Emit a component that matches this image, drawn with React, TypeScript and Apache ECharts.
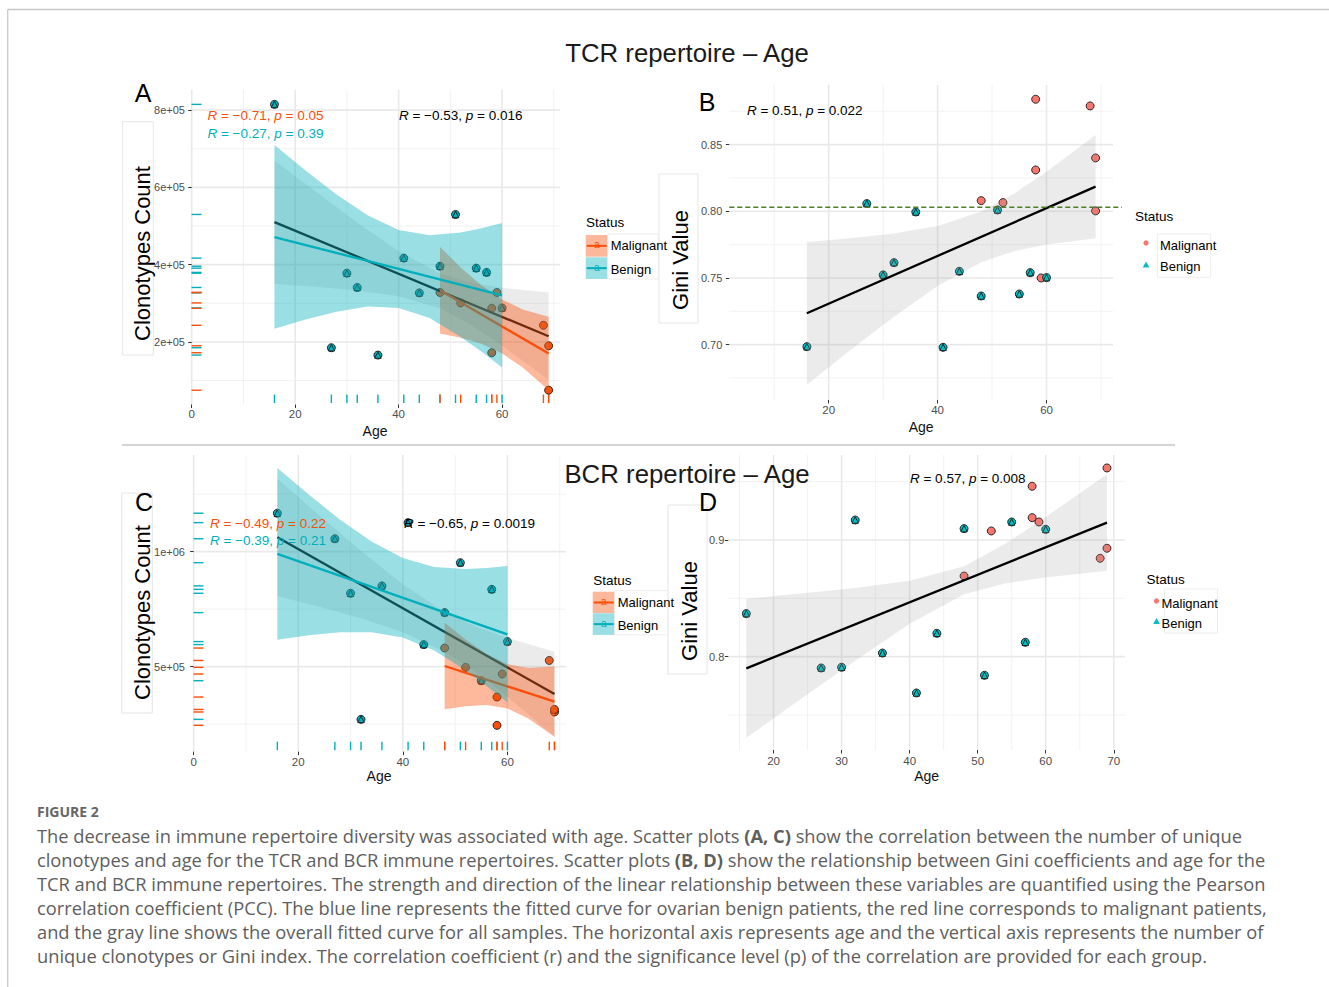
import React, { useEffect, useRef } from "react";
import * as echarts from "echarts";

const FONT = "'Liberation Sans', Arial, Helvetica, sans-serif";
const CAP_FONT = "'Open Sans', 'Noto Sans', sans-serif";

const TEAL = "#00AFBB";
const ORANGE = "#FC4E07";
const TEAL2 = "#00BFC4";
const SALMON = "#F8766D";

// ---------- data ----------
const malignantAges = [48, 52, 58, 58, 59, 68, 69, 69];
const benignAges = [16, 27, 30, 32, 36, 41, 44, 48, 51, 55, 57, 60];

// A: TCR clonotypes count
const aMalignant = [328000, 301000, 287000, 172000, 328000, 243000, 190000, 75000];
const aBenign = [815000, 185000, 378000, 341000, 166000, 417000, 327000, 396000, 530000, 391000, 380000, 288000];
// B: TCR Gini
const bMalignant = [0.808, 0.8065, 0.884, 0.831, 0.75, 0.879, 0.84, 0.8003];
const bBenign = [0.6985, 0.8058, 0.7523, 0.7615, 0.7995, 0.698, 0.755, 0.7365, 0.801, 0.738, 0.754, 0.7503];
// C: BCR clonotypes count
const cMalignant = [581000, 497000, 368000, 245000, 468000, 527000, 303000, 314000];
const cBenign = [1167000, 1056000, 819000, 271000, 851000, 1126000, 596000, 735000, 952000, 439000, 836000, 609000];
// D: BCR Gini
const dMalignant = [0.8691, 0.9077, 0.946, 0.9191, 0.9154, 0.8843, 0.9617, 0.8929];
const dBenign = [0.8369, 0.7903, 0.7909, 0.9171, 0.8031, 0.7689, 0.82, 0.9097, 0.784, 0.9154, 0.8123, 0.9091];

// fitted lines (endpoints)
const aFitAllX = [16, 69], aFitAllY = [510300, 214600];
const aFitBenX = [16, 60], aFitBenY = [471500, 320700];
const aFitMalX = [48, 69], aFitMalY = [333600, 169800];
const bFitX = [16, 69], bFitY = [0.7235, 0.8185];
const cFitAllX = [16, 69], cFitAllY = [1062300, 381200];
const cFitBenX = [16, 60], cFitBenY = [989900, 640600];
const cFitMalX = [48, 69], cFitMalY = [502900, 347800];
const dFitX = [16, 69], dFitY = [0.79, 0.9149];

// confidence bands
const allBandAges = [16, 24, 32, 40, 48, 54, 60, 69];
const aAllLow = [350000, 343000, 333000, 318000, 287000, 244000, 190000, 102000];
const aAllUp = [670000, 589000, 509000, 435000, 377000, 353000, 340000, 328000];
const benBandAges = [16, 22, 28, 34, 40, 46, 52, 56, 60];
const aBenLow = [234000, 258000, 278000, 292000, 288000, 262000, 213000, 175000, 134000];
const aBenUp = [710000, 644000, 582000, 528000, 490000, 476000, 483000, 494000, 508000];
const malBandAges = [48, 52, 56, 60, 64, 69];
const aMalLow = [222000, 211000, 195000, 170000, 134000, 75000];
const aMalUp = [446000, 393000, 347000, 310000, 284000, 265000];

const bLow = [0.670, 0.6959, 0.721, 0.744, 0.7618, 0.7701, 0.7751, 0.7797];
const bUp = [0.777, 0.7797, 0.7834, 0.789, 0.7998, 0.8131, 0.8297, 0.8573];

const cAllLow = [807000, 760000, 710000, 650000, 565000, 475000, 369000, 197000];
const cAllUp = [1317000, 1158000, 1003000, 858000, 737000, 673000, 625000, 565000];
const cBenLow = [617000, 637000, 650000, 650000, 627000, 570000, 484000, 416000, 344000];
const cBenUp = [1363000, 1248000, 1139000, 1044000, 972000, 933000, 924000, 929000, 938000];
const cMalLow = [315000, 328000, 333000, 318000, 275000, 195000];
const cMalUp = [691000, 618000, 555000, 511000, 494000, 501000];

const dLow = [0.7304, 0.7637, 0.7965, 0.8281, 0.8534, 0.8627, 0.8678, 0.8736];
const dUp = [0.8496, 0.8541, 0.8589, 0.8651, 0.8774, 0.8965, 0.9196, 0.9562];

const bCutoff = 0.803;

// ticks / grid
const aXMajor = [0, 20, 40, 60], aXMinor = [10, 30, 50, 70];
const aYMajor = [200000, 400000, 600000, 800000], aYMinor = [100000, 300000, 500000, 700000];
const bXMajor = [20, 40, 60], bXMinor = [10, 30, 50, 70];
const bYMajor = [0.7, 0.75, 0.8, 0.85], bYMinor = [0.675, 0.725, 0.775, 0.825, 0.875];
const cXMajor = [0, 20, 40, 60], cXMinor = [10, 30, 50, 70];
const cYMajor = [500000, 1000000], cYMinor = [250000, 750000, 1250000];
const dXMajor = [20, 30, 40, 50, 60, 70], dXMinor = [15, 25, 35, 45, 55, 65];
const dYMajor = [0.8, 0.9], dYMinor = [0.75, 0.85, 0.95];

const captionLines = [
  "The decrease in immune repertoire diversity was associated with age. Scatter plots {b|(A, C)} show the correlation between the number of unique",
  "clonotypes and age for the TCR and BCR immune repertoires. Scatter plots {b|(B, D)} show the relationship between Gini coefficients and age for the",
  "TCR and BCR immune repertoires. The strength and direction of the linear relationship between these variables are quantified using the Pearson",
  "correlation coefficient (PCC). The blue line represents the fitted curve for ovarian benign patients, the red line corresponds to malignant patients,",
  "and the gray line shows the overall fitted curve for all samples. The horizontal axis represents age and the vertical axis represents the number of",
  "unique clonotypes or Gini index. The correlation coefficient (r) and the significance level (p) of the correlation are provided for each group.",
];

// ---------- helpers ----------
const sci = (v: number) => {
  const e = Math.floor(Math.log10(v) + 1e-9);
  const m = +(v / Math.pow(10, e)).toFixed(2);
  return `${m}e+${String(e).padStart(2, "0")}`;
};

function gridLines(gi: number, xMaj: number[], xMin: number[], yMaj: number[], yMin: number[]) {
  return {
    type: "custom", xAxisIndex: gi, yAxisIndex: gi, z: 0, silent: true,
    data: [[xMaj[0], yMaj[0]]],
    renderItem: (params: any, api: any) => {
      const cs = params.coordSys;
      const ch: any[] = [];
      const v = (val: number, w: number, c: string) => {
        const x = api.coord([val, yMaj[0]])[0];
        ch.push({ type: "line", shape: { x1: x, y1: cs.y, x2: x, y2: cs.y + cs.height }, style: { stroke: c, lineWidth: w } });
      };
      const h = (val: number, w: number, c: string) => {
        const y = api.coord([xMaj[0], val])[1];
        ch.push({ type: "line", shape: { x1: cs.x, y1: y, x2: cs.x + cs.width, y2: y }, style: { stroke: c, lineWidth: w } });
      };
      xMin.forEach((x) => v(x, 0.9, "#F1F1F1"));
      yMin.forEach((y) => h(y, 0.9, "#F1F1F1"));
      xMaj.forEach((x) => v(x, 1.6, "#E9E9E9"));
      yMaj.forEach((y) => h(y, 1.6, "#E9E9E9"));
      return { type: "group", children: ch };
    },
  };
}

function band(gi: number, ages: number[], low: number[], up: number[], fill: string, z: number) {
  return {
    type: "custom", xAxisIndex: gi, yAxisIndex: gi, z, silent: true,
    data: [[ages[0], low[0]]],
    renderItem: (_p: any, api: any) => {
      const pts: number[][] = [];
      ages.forEach((a, i) => pts.push(api.coord([a, up[i]])));
      for (let i = ages.length - 1; i >= 0; i--) pts.push(api.coord([ages[i], low[i]]));
      return { type: "polygon", shape: { points: pts }, style: { fill } };
    },
  };
}

function fit(gi: number, xs: number[], ys: number[], color: string, z: number) {
  return {
    type: "line", xAxisIndex: gi, yAxisIndex: gi, z, silent: true,
    data: xs.map((x, i) => [x, ys[i]]),
    showSymbol: false, symbol: "none",
    lineStyle: { color, width: 2.3 },
  };
}

function points(gi: number, ages: number[], vals: number[], color: string, symbol: string, size: number, z: number) {
  return {
    type: "scatter", xAxisIndex: gi, yAxisIndex: gi, z, silent: true,
    data: ages.map((a, i) => [a, vals[i]]),
    symbol, symbolSize: size,
    itemStyle: { color, borderColor: "#1a1a1a", borderWidth: 0.9, opacity: 1 },
  };
}

function rug(gi: number, ages: number[], vals: number[], color: string) {
  return {
    type: "custom", xAxisIndex: gi, yAxisIndex: gi, z: 1, silent: true,
    data: ages.map((a, i) => [a, vals[i]]),
    renderItem: (params: any, api: any) => {
      const cs = params.coordSys;
      const p = api.coord([api.value(0), api.value(1)]);
      const b = cs.y + cs.height;
      return {
        type: "group",
        children: [
          { type: "line", shape: { x1: p[0], y1: b - 1.5, x2: p[0], y2: b - 10 }, style: { stroke: color, lineWidth: 1.4 } },
          { type: "line", shape: { x1: cs.x + 1.5, y1: p[1], x2: cs.x + 11.5, y2: p[1] }, style: { stroke: color, lineWidth: 1.4 } },
        ],
      };
    },
  };
}

function hline(gi: number, y: number, xRef: number) {
  return {
    type: "custom", xAxisIndex: gi, yAxisIndex: gi, z: 8, silent: true,
    data: [[xRef, y]],
    renderItem: (params: any, api: any) => {
      const cs = params.coordSys;
      const p = api.coord([xRef, y]);
      return {
        type: "line", shape: { x1: cs.x, y1: p[1], x2: cs.x + cs.width + 9, y2: p[1] },
        style: { stroke: "#4E7D2A", lineWidth: 1.4, lineDash: [5, 3] },
      };
    },
  };
}

function xAxis(gi: number, min: number, max: number, ticks: number[], margin: number, nameGap: number, fmt?: (v: number) => string) {
  return {
    gridIndex: gi, type: "value", min, max,
    axisLine: { show: false }, splitLine: { show: false }, minorSplitLine: { show: false },
    axisTick: { show: true, customValues: ticks, length: 3.5, lineStyle: { color: "#333333", width: 1 } },
    axisLabel: { customValues: ticks, color: "#4D4D4D", fontSize: 11.5, fontFamily: FONT, margin, formatter: fmt || ((v: number) => String(v)) },
    name: "Age", nameLocation: "middle", nameGap,
    nameTextStyle: { fontSize: 14, color: "#111", fontFamily: FONT },
  };
}

function yAxis(gi: number, min: number, max: number, ticks: number[], margin: number, fmt: (v: number) => string) {
  return {
    gridIndex: gi, type: "value", min, max,
    axisLine: { show: false }, splitLine: { show: false }, minorSplitLine: { show: false },
    axisTick: { show: true, customValues: ticks, length: 3.5, lineStyle: { color: "#333333", width: 1 } },
    axisLabel: { customValues: ticks, color: "#4D4D4D", fontSize: 11, fontFamily: FONT, margin, formatter: fmt },
  };
}

function T(text: string, x: number, y: number, o: any = {}) {
  const fs = o.fontSize ?? 13;
  const ff = o.fontFamily ?? FONT;
  const fill = o.fill ?? "#000";
  return {
    type: "text", x, y, z: 100, silent: true, rotation: o.rotation ?? 0,
    style: {
      text, fill, fontSize: fs, fontFamily: ff, fontWeight: o.fontWeight ?? "normal",
      align: o.align ?? "left", textAlign: o.align ?? "left",
      verticalAlign: "middle", textVerticalAlign: "middle",
      rich: o.rich,
    },
  };
}

const italicRich = (fill: string, fs: number) => ({
  i: { fontStyle: "italic", fill, fontSize: fs, fontFamily: FONT },
});

function stat(txt: string, x: number, y: number, fill: string) {
  return T(txt, x, y, { fill, fontSize: 13.5, rich: italicRich(fill, 13.5) });
}

function rect(x: number, y: number, w: number, h: number, fill: string, stroke?: string) {
  return { type: "rect", z: 99, silent: true, shape: { x, y, width: w, height: h }, style: { fill, stroke: stroke || null, lineWidth: 1 } };
}

function seg(x1: number, y1: number, x2: number, y2: number, stroke: string, w: number) {
  return { type: "line", z: 100, silent: true, shape: { x1, y1, x2, y2 }, style: { stroke, lineWidth: w } };
}

function fillLegend(x: number, yTitle: number, y1: number, y2: number, h: number, lx: number, boxR: number) {
  const els: any[] = [];
  els.push(T("Status", x, yTitle, { fontSize: 13.5 }));
  els.push(rect(lx, y1, 22, h, "#FDB89C"));
  els.push(rect(lx, y2, 22, h, "#99DFE4"));
  els.push(seg(lx + 1, y1 + h / 2, lx + 21, y1 + h / 2, ORANGE, 2));
  els.push(seg(lx + 1, y2 + h / 2, lx + 21, y2 + h / 2, TEAL, 2));
  els.push(T("a", lx + 11, y1 + h / 2 - 1, { fill: ORANGE, fontSize: 10, align: "center" }));
  els.push(T("a", lx + 11, y2 + h / 2 - 1, { fill: TEAL, fontSize: 10, align: "center" }));
  els.push(rect(lx + 22, y1 - 1, boxR - lx - 22, y2 + h - y1 + 1, "rgba(0,0,0,0)", "#EDEDED"));
  els.push(T("Malignant", lx + 25, y1 + h / 2, { fontSize: 13 }));
  els.push(T("Benign", lx + 25, y2 + h / 2 + 1, { fontSize: 13 }));
  return els;
}

function pointLegend(x: number, yTitle: number, kx: number, y1: number, y2: number, lx: number, box: number[]) {
  return [
    rect(box[0], box[1], box[2], box[3], "rgba(0,0,0,0)", "#EDEDED"),
    T("Status", x, yTitle, { fontSize: 13.5 }),
    { type: "circle", z: 100, silent: true, shape: { cx: kx, cy: y1 - 2, r: 2.6 }, style: { fill: SALMON } },
    { type: "polygon", z: 100, silent: true, shape: { points: [[kx, y2 - 5], [kx - 3.3, y2 + 1], [kx + 3.3, y2 + 1]] }, style: { fill: TEAL2 } },
    T("Malignant", lx, y1, { fontSize: 13 }),
    T("Benign", lx, y2, { fontSize: 13 }),
  ];
}

function yTitleBox(bx: number, by: number, bw: number, bh: number, text: string, cx: number, cy: number) {
  return [
    rect(bx, by, bw, bh, "#FFFFFF", "#E6E6E6"),
    T(text, cx, cy, { fontSize: 22, rotation: Math.PI / 2, align: "center", fill: "#000" }),
  ];
}

export default function App() {
  const ref = useRef<HTMLDivElement>(null);

  useEffect(() => {
    document.body.style.margin = "0";
    const chart = echarts.init(ref.current!, null, { renderer: "svg" });

    const grids = [
      { left: 190, top: 89.7, width: 370, height: 314.8 },
      { left: 729.3, top: 85, width: 383.7, height: 315 },
      { left: 192, top: 455, width: 374, height: 296.7 },
      { left: 728.3, top: 455, width: 396.7, height: 295 },
    ];

    const series: any[] = [
      // A
      gridLines(0, aXMajor, aXMinor, aYMajor, aYMinor),
      points(0, malignantAges, aMalignant, ORANGE, "circle", 8, 1),
      points(0, benignAges, aBenign, TEAL, "circle", 8, 1),
      points(0, benignAges, aBenign, TEAL, "triangle", 6.5, 1),
      rug(0, benignAges, aBenign, TEAL),
      rug(0, malignantAges, aMalignant, ORANGE),
      band(0, allBandAges, aAllLow, aAllUp, "rgba(153,153,153,0.2)", 2),
      fit(0, aFitAllX, aFitAllY, "#111111", 3),
      band(0, malBandAges, aMalLow, aMalUp, "rgba(252,78,7,0.4)", 4),
      fit(0, aFitMalX, aFitMalY, ORANGE, 5),
      band(0, benBandAges, aBenLow, aBenUp, "rgba(0,175,187,0.4)", 6),
      fit(0, aFitBenX, aFitBenY, TEAL, 7),
      // B
      gridLines(1, bXMajor, bXMinor, bYMajor, bYMinor),
      points(1, malignantAges, bMalignant, SALMON, "circle", 8, 1),
      points(1, benignAges, bBenign, TEAL2, "circle", 8, 1),
      points(1, benignAges, bBenign, TEAL2, "triangle", 6.5, 1),
      band(1, allBandAges, bLow, bUp, "rgba(153,153,153,0.2)", 2),
      fit(1, bFitX, bFitY, "#000000", 3),
      hline(1, bCutoff, 20),
      // C
      gridLines(2, cXMajor, cXMinor, cYMajor, cYMinor),
      points(2, malignantAges, cMalignant, ORANGE, "circle", 8, 1),
      points(2, benignAges, cBenign, TEAL, "circle", 8, 1),
      points(2, benignAges, cBenign, TEAL, "triangle", 6.5, 1),
      rug(2, benignAges, cBenign, TEAL),
      rug(2, malignantAges, cMalignant, ORANGE),
      band(2, allBandAges, cAllLow, cAllUp, "rgba(153,153,153,0.2)", 2),
      fit(2, cFitAllX, cFitAllY, "#111111", 3),
      band(2, malBandAges, cMalLow, cMalUp, "rgba(252,78,7,0.4)", 4),
      fit(2, cFitMalX, cFitMalY, ORANGE, 5),
      band(2, benBandAges, cBenLow, cBenUp, "rgba(0,175,187,0.4)", 6),
      fit(2, cFitBenX, cFitBenY, TEAL, 7),
      // D
      gridLines(3, dXMajor, dXMinor, dYMajor, dYMinor),
      points(3, malignantAges, dMalignant, SALMON, "circle", 8, 1),
      points(3, benignAges, dBenign, TEAL2, "circle", 8, 1),
      points(3, benignAges, dBenign, TEAL2, "triangle", 6.5, 1),
      band(3, allBandAges, dLow, dUp, "rgba(153,153,153,0.2)", 2),
      fit(3, dFitX, dFitY, "#000000", 3),
    ];

    const graphic: any[] = [
      seg(7.7, 9.5, 1329, 9.5, "#C8C8C8", 1.3),
      seg(7.7, 9.5, 7.7, 987, "#C8C8C8", 1.3),
      seg(122, 445, 1175, 445, "#AAAAAA", 1),
      // y titles
      ...yTitleBox(122.7, 121.7, 30.6, 233.3, "Clonotypes Count", 142, 253.5),
      ...yTitleBox(659, 174, 39, 149, "Gini Value", 680, 260),
      ...yTitleBox(121.7, 493, 30.6, 220, "Clonotypes Count", 142, 612.5),
      ...yTitleBox(668, 505, 39, 169, "Gini Value", 689, 611),
      // titles & panel letters
      T("TCR repertoire \u2013 Age", 687, 53, { fontSize: 25.8, align: "center", fill: "#1a1a1a" }),
      T("BCR repertoire \u2013 Age", 687, 474, { fontSize: 25.8, align: "center", fill: "#1a1a1a" }),
      T("A", 143, 93, { fontSize: 25, align: "center" }),
      T("B", 707, 102, { fontSize: 25, align: "center" }),
      T("C", 144, 502, { fontSize: 25, align: "center" }),
      T("D", 708, 502, { fontSize: 25, align: "center" }),
      // stats
      stat("{i|R} = \u22120.71, {i|p} = 0.05", 207.5, 115.5, ORANGE),
      stat("{i|R} = \u22120.27, {i|p} = 0.39", 207.5, 133, TEAL),
      stat("{i|R} = \u22120.53, {i|p} = 0.016", 399, 115, "#000"),
      stat("{i|R} = 0.51, {i|p} = 0.022", 747, 110.5, "#000"),
      stat("{i|R} = \u22120.49, {i|p} = 0.22", 210, 523.5, ORANGE),
      stat("{i|R} = \u22120.39, {i|p} = 0.21", 210, 540.5, TEAL),
      stat("{i|R} = \u22120.65, {i|p} = 0.0019", 404, 523.5, "#000"),
      stat("{i|R} = 0.57, {i|p} = 0.008", 910, 478.5, "#000"),
      // legends
      ...fillLegend(586, 222.5, 235, 257.3, 21.7, 585.7, 658.3),
      ...pointLegend(1135, 216, 1146, 245, 266.5, 1160, [1157.3, 234, 53.4, 43.3]),
      ...fillLegend(593.3, 580, 591.7, 613.3, 21.6, 592.7, 668.3),
      ...pointLegend(1146.5, 579.5, 1156.5, 603, 623, 1161.5, [1164.5, 589, 53, 44]),
      // caption
      T("FIGURE 2", 37, 811, { fontSize: 14, fontFamily: CAP_FONT, fontWeight: "bold", fill: "#666666" }),
      ...captionLines.map((l, i) =>
        T(l, 37, 835 + i * 24, {
          fontSize: 18.3, fontFamily: CAP_FONT, fill: "#5E5E5E",
          rich: { b: { fontWeight: "bold", fill: "#5E5E5E", fontSize: 18.3, fontFamily: CAP_FONT } },
        })
      ),
    ];

    chart.setOption({
      animation: false,
      backgroundColor: "#FFFFFF",
      grid: grids,
      xAxis: [
        xAxis(0, -0.33, 71.2, aXMajor, 3.5, 19.5),
        xAxis(1, 1.76, 72.2, bXMajor, 4, 19.5),
        xAxis(2, -0.32, 71.2, cXMajor, 4, 17.5),
        xAxis(3, 13.35, 71.65, dXMajor, 5, 19),
      ],
      yAxis: [
        yAxis(0, 38000, 853000, aYMajor, 5, sci),
        yAxis(1, 0.6585, 0.8947, bYMajor, 7, (v: number) => v.toFixed(2)),
        yAxis(2, 130400, 1420000, cYMajor, 7, sci),
        yAxis(3, 0.72, 0.9728, dYMajor, 4, (v: number) => v.toFixed(1)),
      ],
      series,
      graphic,
    });

    return () => chart.dispose();
  }, []);

  return <div ref={ref} style={{ position: "absolute", left: 0, top: 0, width: 1329, height: 987 }} />;
}
